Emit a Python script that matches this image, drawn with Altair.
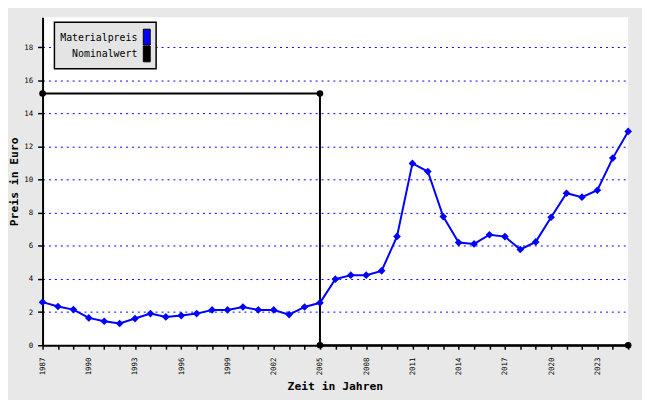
import altair as alt
import pandas as pd

years = list(range(1987, 2026))
material = [2.60, 2.34, 2.15, 1.65, 1.45, 1.31, 1.61, 1.91, 1.71, 1.79,
            1.91, 2.13, 2.13, 2.31, 2.13, 2.13, 1.85, 2.31, 2.56,
            3.99, 4.23, 4.23, 4.49, 6.57, 10.98, 10.49, 7.77, 6.20, 6.12,
            6.67, 6.56, 5.78, 6.24, 7.73, 9.18, 8.94, 9.36, 11.30, 12.91]
nom_x = [1987, 2005, 2005, 2025]
nom_y = [15.2, 15.2, 0, 0]
y_ticks = [0, 2, 4, 6, 8, 10, 12, 14, 16, 18]
legend_labels = ["Materialpreis", "Nominalwert"]
legend_colors = ["#0000ff", "#000000"]

FONT = "DejaVu Sans Mono"
BG = "#e8e8e8"

df_m = pd.DataFrame({"Jahr": years, "Preis": material})
df_n = pd.DataFrame({"Jahr": nom_x, "Preis": nom_y, "o": list(range(len(nom_x)))})

xscale = alt.Scale(domain=[1987, 2025], nice=False, zero=False)
yscale = alt.Scale(domain=[0, 19.8], nice=False)

xaxis = alt.Axis(
    values=years, labelExpr="datum.value % 3 == 1 ? datum.label : ''",
    format="d", labelAngle=270, labelAlign="right", labelBaseline="middle",
    labelFont=FONT, labelFontSize=7.5, labelColor="black", labelPadding=8,
    tickSize=4, tickColor="black", tickWidth=1.5,
    domainColor="black", domainWidth=2, grid=False,
    title="Zeit in Jahren", titleFont=FONT, titleFontSize=11.5,
    titleFontWeight="bold", titleColor="black",
    titleX=296, titleY=45, titleAlign="center", titleBaseline="alphabetic",
    labelOverlap=False, labelFlush=False,
)
yaxis = alt.Axis(
    values=y_ticks, format="d",
    labelFont=FONT, labelFontSize=7.5, labelColor="black", labelPadding=5,
    tickSize=5, tickColor="black", tickWidth=1.5,
    domainColor="black", domainWidth=2,
    grid=True, gridColor="#0000ff", gridDash=[2, 4], gridWidth=1,
    title="Preis in Euro", titleFont=FONT, titleFontSize=11.5,
    titleFontWeight="bold", titleColor="black", titleAngle=270,
    titleX=-28, titleY=166, titleAlign="center", titleBaseline="middle",
    labelOverlap=False, labelFlush=False,
)

nominal = alt.Chart(df_n).mark_line(
    color="black", strokeWidth=2,
    point=alt.OverlayMarkDef(shape="circle", size=45, filled=True, color="black"),
).encode(
    x=alt.X("Jahr:Q", scale=xscale, axis=xaxis),
    y=alt.Y("Preis:Q", scale=yscale, axis=yaxis),
    order="o:Q",
)

mat = alt.Chart(df_m).mark_line(
    color="#0000ff", strokeWidth=2,
    point=alt.OverlayMarkDef(shape="diamond", size=60, filled=True, color="#0000ff"),
).encode(
    x=alt.X("Jahr:Q", scale=xscale, axis=xaxis),
    y=alt.Y("Preis:Q", scale=yscale, axis=yaxis),
)

one = pd.DataFrame({"a": [0]})
leg_box = alt.Chart(one).mark_rect(fill="#e4e4e4", stroke="black", strokeWidth=1.5).encode(
    x=alt.value(12), x2=alt.value(115), y=alt.value(5), y2=alt.value(52)
)
leg_parts = [leg_box]
for i, (lab, col) in enumerate(zip(legend_labels, legend_colors)):
    y0 = 12 + i * 17
    leg_parts.append(
        alt.Chart(one).mark_rect(fill=col, stroke="black", strokeWidth=1).encode(
            x=alt.value(102), x2=alt.value(109), y=alt.value(y0), y2=alt.value(y0 + 16)
        )
    )
    leg_parts.append(
        alt.Chart(one).mark_text(
            text=lab, font=FONT, fontSize=10, align="right", baseline="middle", color="black"
        ).encode(x=alt.value(96), y=alt.value(y0 + 8.5))
    )

chart = alt.layer(nominal, mat, *leg_parts).properties(
    width=593, height=332,
    autosize=alt.AutoSizeParams(type="none"),
    padding={"left": 35, "top": 7, "right": 14, "bottom": 53},
    background=BG,
).configure_view(fill="white", stroke=None)

chart.save("out.html", embed_options={"renderer": "svg", "actions": False})
